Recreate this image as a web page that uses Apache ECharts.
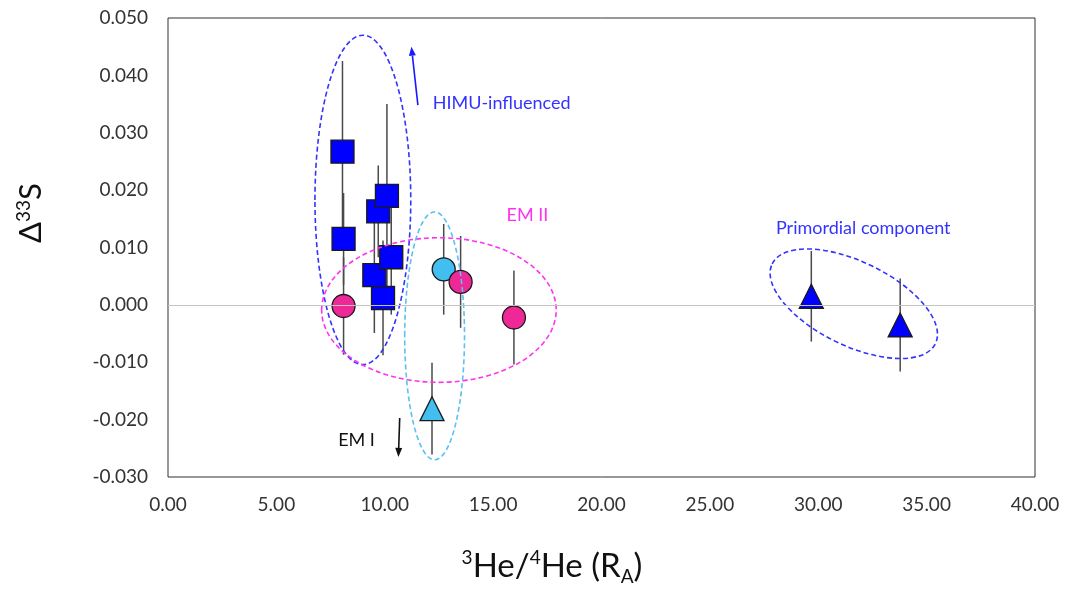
<!DOCTYPE html>
<html>
<head>
<meta charset="utf-8">
<script src="https://cdn.jsdelivr.net/npm/echarts@6/dist/echarts.min.js"></script>
<style>
  html, body { margin: 0; padding: 0; background: #fff; }
  #chart { width: 1068px; height: 591px; }
</style>
</head>
<body>
<div id="chart"></div>
<script>
// HIMU-influenced samples (blue squares): 3He/4He (RA), Δ33S, ± error
const himuX   = [8.05, 8.10, 9.70, 10.10, 9.52, 10.30, 9.92];
const himuY   = [0.0267, 0.0115, 0.0163, 0.0190, 0.0052, 0.0083, 0.0012];
const himuErr = [0.0158, 0.0080, 0.0080, 0.0160, 0.0101, 0.0100, 0.0100];

// EM II samples (pink circles)
const em2X   = [8.10, 13.50, 15.96];
const em2Y   = [-0.0002, 0.0040, -0.0022];
const em2Err = [0.0085, 0.0080, 0.0082];

// EM I samples (light-blue circle and triangle)
const em1CircleX   = [12.72];
const em1CircleY   = [0.0062];
const em1CircleErr = [0.0079];
const em1TriX   = [12.18];
const em1TriY   = [-0.0181];
const em1TriErr = [0.0080];

// Primordial component (blue triangles)
const primX   = [29.68, 33.78];
const primY   = [0.0015, -0.0035];
const primErr = [0.0079, 0.0081];

// Axis ticks
const xTicks = [0, 5, 10, 15, 20, 25, 30, 35, 40];
const yTicks = [-0.03, -0.02, -0.01, 0, 0.01, 0.02, 0.03, 0.04, 0.05];

// Group outlines: centre x, centre y, half-width (x units), half-height (y units), tilt (deg), colour
const groupOutlines = [
  [8.99, 0.0183, 2.21, 0.0287, 0, '#3333ff'],
  [12.50, -0.0009, 5.41, 0.0126, 0, '#ff33ee'],
  [12.30, -0.0054, 1.38, 0.0216, 0, '#5cc0f0'],
  [31.64, 0.0002, 4.19, 0.0073, -26, '#3333ff']
];

// Trend arrows: from (x, y) to (x, y), colour
const trendArrows = [
  [11.53, 0.0348, 11.23, 0.0450, '#1a1aff'],
  [10.69, -0.0197, 10.63, -0.0265, '#111111']
];

// Group labels: left x, middle y, text, colour
const groupLabels = [
  [12.21, 0.0352, 'HIMU-influenced', '#3333ff'],
  [15.62, 0.0157, 'EM II', '#ff33ee'],
  [28.05, 0.0134, 'Primordial component', '#3333ff'],
  [7.85, -0.0236, 'EM I', '#111111']
];

const FONT = 'Lato, "Open Sans", sans-serif';

function zip(xs, ys) { return xs.map((x, i) => [x, ys[i]]); }
function zip3(xs, ys, es) { return xs.map((x, i) => [x, ys[i], es[i]]); }

const errData = []
  .concat(zip3(himuX, himuY, himuErr))
  .concat(zip3(em2X, em2Y, em2Err))
  .concat(zip3(em1CircleX, em1CircleY, em1CircleErr))
  .concat(zip3(em1TriX, em1TriY, em1TriErr))
  .concat(zip3(primX, primY, primErr));

const markerBorder = { borderColor: '#1a1a1a', borderWidth: 1.3, opacity: 1 };

const chart = echarts.init(document.getElementById('chart'), null, { renderer: 'canvas' });

chart.setOption({
  animation: false,
  backgroundColor: '#fff',
  grid: {
    left: 168, right: 33, top: 18, bottom: 114,
    show: true, borderColor: '#303030', borderWidth: 1
  },
  xAxis: {
    type: 'value', min: 0, max: 40, interval: 5,
    axisLine: { show: false }, axisTick: { show: false }, splitLine: { show: false },
    axisLabel: {
      margin: 18, fontFamily: FONT, fontSize: 19, color: '#333',
      formatter: v => v.toFixed(2)
    }
  },
  yAxis: {
    type: 'value', min: -0.03, max: 0.05, interval: 0.01,
    axisLine: { show: false }, axisTick: { show: false }, splitLine: { show: false },
    axisLabel: {
      margin: 20, fontFamily: FONT, fontSize: 19, color: '#333',
      formatter: v => v.toFixed(3)
    }
  },
  graphic: [
    {
      type: 'text', x: 30, y: 213, rotation: Math.PI / 2,
      style: {
        text: '{s|Δ}{sup|33}{s|S}',
        align: 'center', verticalAlign: 'middle',
        rich: {
          s: { fontFamily: FONT, fontSize: 31, fill: '#111', verticalAlign: 'bottom' },
          sup: { fontFamily: FONT, fontSize: 19, fill: '#111', verticalAlign: 'top', padding: [0, 0, 13, 0] }
        }
      }
    },
    {
      type: 'text', x: 552, y: 566,
      style: {
        text: '{sup|3}{s|He/}{sup|4}{s|He (R}{sub|A}{s|)}',
        align: 'center', verticalAlign: 'middle',
        rich: {
          s: { fontFamily: FONT, fontSize: 33, fill: '#111' },
          sup: { fontFamily: FONT, fontSize: 19, fill: '#111', padding: [0, 0, 17, 0] },
          sub: { fontFamily: FONT, fontSize: 19, fill: '#111', padding: [22, 0, 0, 0] }
        }
      }
    }
  ],
  series: [
    {
      // vertical error bars, drawn beneath the markers
      type: 'custom', z: 1, silent: true,
      data: errData,
      renderItem: (params, api) => {
        const top = api.coord([api.value(0), api.value(1) + api.value(2)]);
        const bot = api.coord([api.value(0), api.value(1) - api.value(2)]);
        return {
          type: 'line',
          shape: { x1: top[0], y1: top[1], x2: bot[0], y2: bot[1] },
          style: { stroke: '#4a4a4a', lineWidth: 1.5 }
        };
      }
    },
    {
      name: 'HIMU', type: 'scatter', z: 3, symbol: 'rect', symbolSize: 23,
      itemStyle: Object.assign({ color: '#0000ff' }, markerBorder),
      data: zip(himuX, himuY),
      markLine: {
        silent: true, symbol: 'none', label: { show: false },
        lineStyle: { color: '#c4c4c4', width: 1.2, type: 'solid' },
        data: [{ yAxis: 0 }]
      }
    },
    {
      name: 'EM I circle', type: 'scatter', z: 3, symbol: 'circle', symbolSize: 23,
      itemStyle: Object.assign({ color: '#42bef0' }, markerBorder),
      data: zip(em1CircleX, em1CircleY)
    },
    {
      name: 'EM II', type: 'scatter', z: 3, symbol: 'circle', symbolSize: 23,
      itemStyle: Object.assign({ color: '#ee2896' }, markerBorder),
      data: zip(em2X, em2Y)
    },
    {
      name: 'EM I triangle', type: 'scatter', z: 3, symbol: 'triangle', symbolSize: 24,
      itemStyle: Object.assign({ color: '#42bef0' }, markerBorder),
      data: zip(em1TriX, em1TriY)
    },
    {
      name: 'Primordial', type: 'scatter', z: 3, symbol: 'triangle', symbolSize: 24,
      itemStyle: Object.assign({ color: '#0000ff' }, markerBorder),
      data: zip(primX, primY)
    },
    {
      // dashed outlines around sample groups
      type: 'custom', z: 4, silent: true,
      data: groupOutlines,
      renderItem: (params, api) => {
        const d = groupOutlines[params.dataIndex];
        const c = api.coord([d[0], d[1]]);
        const s = api.size([d[2], d[3]]);
        return {
          type: 'ellipse', x: c[0], y: c[1], rotation: d[4] * Math.PI / 180,
          shape: { cx: 0, cy: 0, rx: s[0], ry: s[1] },
          style: { fill: 'none', stroke: d[5], lineWidth: 1.6, lineDash: [5, 3] }
        };
      }
    },
    {
      // trend arrows
      type: 'custom', z: 4, silent: true,
      data: trendArrows,
      renderItem: (params, api) => {
        const d = trendArrows[params.dataIndex];
        const a = api.coord([d[0], d[1]]);
        const b = api.coord([d[2], d[3]]);
        const ang = Math.atan2(b[1] - a[1], b[0] - a[0]);
        const L = 9, W = 3.5;
        const bx = b[0] - L * Math.cos(ang), by = b[1] - L * Math.sin(ang);
        const p1 = [bx + W * Math.sin(ang), by - W * Math.cos(ang)];
        const p2 = [bx - W * Math.sin(ang), by + W * Math.cos(ang)];
        return {
          type: 'group',
          children: [
            { type: 'line', shape: { x1: a[0], y1: a[1], x2: bx, y2: by },
              style: { stroke: d[4], lineWidth: 1.6 } },
            { type: 'polygon', shape: { points: [b, p1, p2] }, style: { fill: d[4] } }
          ]
        };
      }
    },
    {
      // group labels
      type: 'custom', z: 5, silent: true,
      data: groupLabels,
      renderItem: (params, api) => {
        const d = groupLabels[params.dataIndex];
        const p = api.coord([d[0], d[1]]);
        return {
          type: 'text', x: p[0], y: p[1],
          style: {
            text: d[2], fill: d[3], fontFamily: FONT, fontSize: 18,
            align: 'left', verticalAlign: 'middle'
          }
        };
      }
    }
  ]
});
</script>
</body>
</html>
